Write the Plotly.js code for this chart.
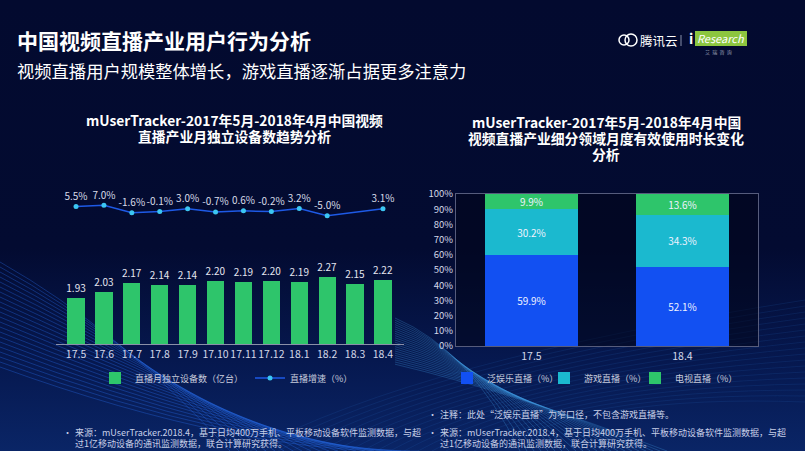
<!DOCTYPE html>
<html><head><meta charset="utf-8">
<script src="https://cdn.plot.ly/plotly-3.0.1.min.js"></script>
<style>
html,body{margin:0;padding:0;}
body{width:805px;height:451px;overflow:hidden;background:linear-gradient(to bottom,#030a2f 0%,#030b31 55%,#06184f 80%,#0a2566 100%);}
#chart{width:805px;height:451px;}
</style></head>
<body><div id="chart"></div>
<script>
// ---- data ----
const months = ['17.5','17.6','17.7','17.8','17.9','17.10','17.11','17.12','18.1','18.2','18.3','18.4'];
const devices = [1.93,2.03,2.17,2.14,2.14,2.20,2.19,2.20,2.19,2.27,2.15,2.22];
const growth = [5.5,7.0,-1.6,-0.1,3.0,-0.7,0.6,-0.2,3.2,-5.0,3.1];
const growthMonths = ['17.5','17.6','17.7','17.8','17.9','17.10','17.11','17.12','18.1','18.2','18.4'];
const periods = ['17.5','18.4'];
const entertainment = [59.9,52.1];
const gaming = [30.2,34.3];
const tv = [9.9,13.6];
const pctTickVals = [0,10,20,30,40,50,60,70,80,90,100];
const pctTickText = ['0%','10%','20%','30%','40%','50%','60%','70%','80%','90%','100%'];
const seriesNamesLeft = ['直播月独立设备数（亿台）','直播增速（%）'];
const seriesNamesRight = ['泛娱乐直播（%）','游戏直播（%）','电视直播（%）'];

const W=805,H=451;
const px=x=>x/W, py=y=>1-y/H;
const FONT='Noto Sans CJK SC, sans-serif';
const GREEN='#2ec56b', BLUE='#1250f2', CYAN='#1bb9cf';

const traces=[
 {type:'bar',x:months,y:devices,xaxis:'x',yaxis:'y',name:seriesNamesLeft[0],marker:{color:GREEN},
  texttemplate:'%{y:.2f}',textposition:'outside',constraintext:'none',cliponaxis:false,textfont:{color:'#e4e6f0',size:10,family:FONT},legend:'legend',hoverinfo:'skip'},
 {type:'scatter',mode:'lines+markers+text',x:growthMonths,y:growth,xaxis:'x',yaxis:'y3',name:seriesNamesLeft[1],
  line:{color:'#1e5ae6',width:1.5},marker:{color:'#3cc6f2',size:5},
  texttemplate:'%{y:.1f}%',textposition:'top center',cliponaxis:false,textfont:{color:'#d8dbe8',size:10,family:FONT},legend:'legend2',hoverinfo:'skip'},
 {type:'bar',x:periods,y:entertainment,xaxis:'x2',yaxis:'y2',name:seriesNamesRight[0],marker:{color:BLUE},
  texttemplate:'%{y:.1f}%',textposition:'inside',insidetextanchor:'middle',constraintext:'none',textfont:{color:'#f0f2ff',size:10,family:FONT},legend:'legend3',hoverinfo:'skip'},
 {type:'bar',x:periods,y:gaming,xaxis:'x2',yaxis:'y2',name:seriesNamesRight[1],marker:{color:CYAN},
  texttemplate:'%{y:.1f}%',textposition:'inside',insidetextanchor:'middle',constraintext:'none',textfont:{color:'#f0f2ff',size:10,family:FONT},legend:'legend4',hoverinfo:'skip'},
 {type:'bar',x:periods,y:tv,xaxis:'x2',yaxis:'y2',name:seriesNamesRight[2],marker:{color:GREEN},
  texttemplate:'%{y:.1f}%',textposition:'inside',insidetextanchor:'middle',constraintext:'none',textfont:{color:'#f0f2ff',size:10,family:FONT},legend:'legend5',hoverinfo:'skip'}
];

// decorative wave lines (background only)
const shapes=[];
for(let i=0;i<22;i++){
  const y0=262+i*5, x1=120+i*6, y1=330+i*6, x2=230+i*9;
  shapes.push({type:'path',xref:'paper',yref:'paper',layer:'below',
    path:`M 0 ${py(y0)} Q ${px(x1)} ${py(y1)} ${px(x2)} ${py(451)}`,
    line:{color:'rgba(40,110,235,0.5)',width:0.7}});
}
for(let i=0;i<22;i++){
  const y0=318+i*2.2, x2=520+i*7;
  shapes.push({type:'path',xref:'paper',yref:'paper',layer:'below',
    path:`M ${px(395)} ${py(y0)} Q ${px(470+i*2)} ${py(350+i*2)} ${px(x2)} ${py(451)}`,
    line:{color:'rgba(70,170,240,0.45)',width:0.6}});
}
for(let i=0;i<18;i++){
  shapes.push({type:'path',xref:'paper',yref:'paper',layer:'below',
    path:`M ${px(250+i*14)} ${py(451)} Q ${px(420+i*10)} ${py(360+i*2)} ${px(805)} ${py(300+i*6)}`,
    line:{color:'rgba(50,120,220,0.22)',width:0.6}});
}
// darker plot area in right chart
shapes.push({type:'rect',xref:'paper',yref:'paper',layer:'below',x0:px(456),x1:px(758),y0:py(346),y1:py(194),
  fillcolor:'rgba(1,5,25,0.55)',line:{width:0}});
// iResearch logo box
shapes.push({type:'rect',xref:'paper',yref:'paper',x0:px(695),x1:px(747),y0:py(46),y1:py(31),
  fillcolor:'#8cc63f',line:{width:0}});
// tencent cloud icon
shapes.push({type:'circle',xref:'paper',yref:'paper',x0:px(619),x1:px(629),y0:py(45),y1:py(35),line:{color:'#ffffff',width:1.5}});
shapes.push({type:'circle',xref:'paper',yref:'paper',x0:px(625),x1:px(637),y0:py(46),y1:py(34),line:{color:'#ffffff',width:1.5}});
shapes.push({type:'line',xref:'paper',yref:'paper',x0:px(681),x1:px(681),y0:py(35),y1:py(46),line:{color:'#8890aa',width:1}});

const ann=(x,y,text,size,opts={})=>Object.assign({xref:'paper',yref:'paper',x:px(x),y:py(y),text,showarrow:false,
  xanchor:'left',yanchor:'middle',font:{family:FONT,size,color:'#ffffff'}},opts);
const FN={family:FONT,size:9,color:'#c8d0e8'};
const CT={xanchor:'center',align:'center'};

const annotations=[
  ann(15,40,'<b>中国视频直播产业用户行为分析</b>',21),
  ann(15,70,'视频直播用户规模整体增长，游戏直播逐渐占据更多注意力',17.3),
  ann(638,40,'腾讯云',12.5),
  ann(687,38,'<b>i</b>',14),
  ann(721,38.5,'<i>Research</i>',11,{xanchor:'center',font:{family:FONT,size:11,color:'#ffffff'}}),
  ann(718,52,'艾  瑞  咨  询',5,{xanchor:'center',font:{family:FONT,size:5,color:'#9aa0b8'}}),
  ann(234,120,'<b>mUserTracker-2017年5月-2018年4月中国视频</b>',13.8,CT),
  ann(234,136,'<b>直播产业月独立设备数趋势分析</b>',13.8,CT),
  ann(606,122,'<b>mUserTracker-2017年5月-2018年4月中国</b>',13.8,CT),
  ann(606,138,'<b>视频直播产业细分领域月度有效使用时长变化</b>',13.8,CT),
  ann(606,154,'<b>分析</b>',13.8,CT),
  ann(61,432,'•',9,{font:FN}),
  ann(73,432,'来源：mUserTracker.2018.4，基于日均400万手机、平板移动设备软件监测数据，与超',9,{font:FN}),
  ann(73,443,'过1亿移动设备的通讯监测数据，联合计算研究获得。',9,{font:FN}),
  ann(426,414,'•',9,{font:FN}),
  ann(438,414,'注释：此处“泛娱乐直播”为窄口径，不包含游戏直播等。',9,{font:FN}),
  ann(426,432,'•',9,{font:FN}),
  ann(438,432,'来源：mUserTracker.2018.4，基于日均400万手机、平板移动设备软件监测数据，与超',9,{font:FN}),
  ann(438,443,'过1亿移动设备的通讯监测数据，联合计算研究获得。',9,{font:FN})
];

const leg=(x)=>({orientation:'h',x:px(x),y:py(378),xanchor:'left',yanchor:'middle',bgcolor:'rgba(0,0,0,0)',
    font:{size:9,color:'#c8ccdc',family:FONT},itemwidth:30});

const layout={
  width:W,height:H,margin:{l:0,r:0,t:0,b:0,autoexpand:false},
  paper_bgcolor:'rgba(0,0,0,0)',plot_bgcolor:'rgba(0,0,0,0)',
  font:{family:FONT,color:'#d4d8e8'},
  barmode:'stack',bargap:0.38,
  xaxis:{domain:[px(55.5),px(403.5)],anchor:'y',type:'category',showgrid:false,zeroline:false,
    showline:true,linecolor:'#8a90a8',linewidth:1,ticks:'',tickfont:{size:10.5,color:'#d4d8e8'},tickangle:0,fixedrange:true},
  yaxis:{domain:[py(344),py(250)],range:[1.185,2.706],visible:false,fixedrange:true},
  yaxis3:{domain:[py(230),py(190)],range:[-21.4,24.6],visible:false,anchor:'x',fixedrange:true},
  xaxis2:{domain:[px(456),px(758)],anchor:'y2',type:'category',showgrid:false,zeroline:false,
    showline:true,mirror:true,linecolor:'#565c7c',linewidth:1,ticks:'',tickfont:{size:10.5,color:'#d4d8e8'},fixedrange:true},
  yaxis2:{domain:[py(346),py(194)],range:[0,100],anchor:'x2',tickmode:'array',tickvals:pctTickVals,ticktext:pctTickText,
    showgrid:false,zeroline:false,showline:true,mirror:true,linecolor:'#565c7c',linewidth:1,
    ticks:'',tickfont:{size:9.5,color:'#d4d8e8'},fixedrange:true},
  legend:leg(95),
  legend2:leg(250),
  legend3:leg(447),
  legend4:leg(544),
  legend5:leg(635),
  showlegend:true,
  shapes,annotations
};
Plotly.newPlot('chart',traces,layout,{displayModeBar:false,staticPlot:true});
</script></body></html>
